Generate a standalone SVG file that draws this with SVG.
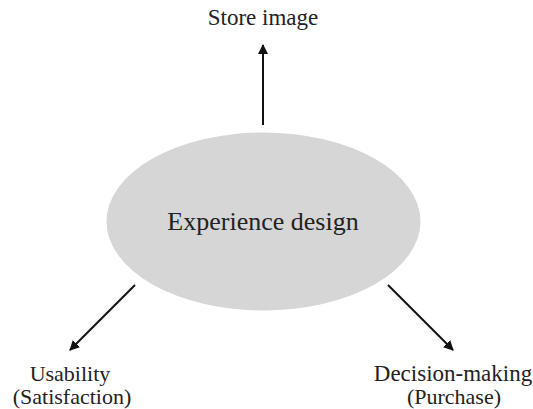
<svg xmlns="http://www.w3.org/2000/svg" width="533" height="409" viewBox="0 0 533 409">
<style>
text{font-family:"Liberation Serif","Times New Roman",serif;fill:#222;text-anchor:middle}
.lbl{font-size:22px}
.edge{stroke:#111;stroke-width:2;fill:none;marker-end:url(#ah)}
</style>
<defs>
<marker id="ah" viewBox="0 0 10 10" refX="9" refY="5" markerWidth="5" markerHeight="5" markerUnits="strokeWidth" orient="auto">
<path d="M0,0 L10,5 L0,10 z" fill="#111"/>
</marker>
</defs>
<rect width="533" height="409" fill="#fff"/>
<g id="center">
<ellipse cx="263.5" cy="221.5" rx="157" ry="89" fill="#d6d6d6"/>
<text x="263" y="230" font-size="26">Experience design</text>
</g>
<g id="store">
<text x="263" y="25" font-size="23">Store image</text>
</g>
<g id="usability">
<text class="lbl" x="70" y="381">Usability</text>
<text class="lbl" x="72" y="404">(Satisfaction)</text>
</g>
<g id="decision">
<text x="453" y="381" font-size="23">Decision-making</text>
<text class="lbl" x="454" y="404">(Purchase)</text>
</g>
<g id="connectors">
<line class="edge" x1="263" y1="125" x2="263" y2="45"/>
<line class="edge" x1="135" y1="285" x2="70" y2="350"/>
<line class="edge" x1="388" y1="285" x2="453" y2="350"/>
</g>
</svg>
